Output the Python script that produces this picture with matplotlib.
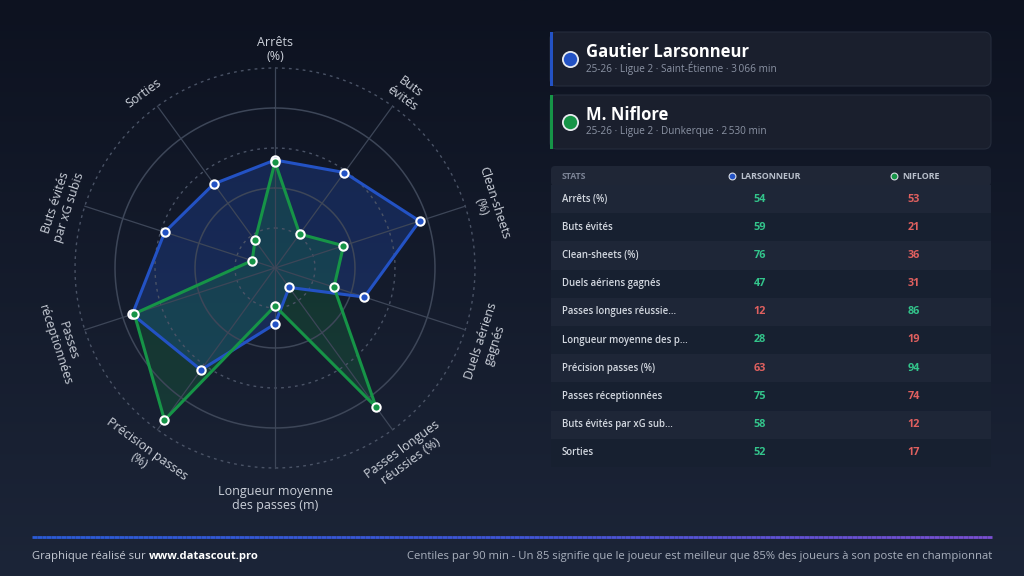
import numpy as np
import matplotlib
matplotlib.use('Agg')
import matplotlib.pyplot as plt
from matplotlib.patches import FancyBboxPatch, Rectangle
from matplotlib.colors import LinearSegmentedColormap
from matplotlib.collections import LineCollection
from matplotlib.transforms import ScaledTranslation

plt.rcParams['font.family'] = ['Open Sans', 'DejaVu Sans']

# --- data ---
categories = ['Arrêts\n(%)', 'Buts\névités', 'Clean-sheets\n(%)', 'Duels aériens\ngagnés',
              'Passes longues\nréussies (%)', 'Longueur moyenne\ndes passes (m)',
              'Précision passes\n(%)', 'Passes\nréceptionnées', 'Buts évités\npar xG subis', 'Sorties']
table_labels = ['Arrêts (%)', 'Buts évités', 'Clean-sheets (%)', 'Duels aériens gagnés',
                'Passes longues réussie...', 'Longueur moyenne des p...', 'Précision passes (%)',
                'Passes réceptionnées', 'Buts évités par xG sub...', 'Sorties']
larsonneur = [54, 59, 76, 47, 12, 28, 63, 75, 58, 52]
niflore = [53, 21, 36, 31, 86, 19, 94, 74, 12, 17]
players = ['Gautier Larsonneur', 'M. Niflore']
short_names = ['LARSONNEUR', 'NIFLORE']
infos = ['25-26 · Ligue 2 · Saint-Étienne · 3\u2009066 min',
         '25-26 · Ligue 2 · Dunkerque · 2\u2009530 min']

BLUE = '#2352c4'
GREEN = '#169447'
GOOD = '#33c48b'
BAD = '#e0605f'
TXT = '#ccd1da'

fig = plt.figure(figsize=(10.24, 5.76), dpi=100)

# background in pixel coordinates
bg = fig.add_axes([0, 0, 1, 1])
bg.set_xlim(0, 1024)
bg.set_ylim(576, 0)
bg.axis('off')
cmap = LinearSegmentedColormap.from_list('bg', ['#0d1220', '#1c2538'])
bg.imshow(np.linspace(0, 1, 256).reshape(-1, 1), extent=[0, 1024, 576, 0],
          cmap=cmap, aspect='auto', zorder=0)

# --- radar ---
ax = fig.add_axes([75 / 1024, 108 / 576, 400 / 1024, 400 / 576], projection='polar')
ax.set_theta_zero_location('N')
ax.set_theta_direction(-1)
ax.set_ylim(0, 100)
ax.axis('off')

n = len(categories)
angles = np.linspace(0, 2 * np.pi, n, endpoint=False)
circ = np.linspace(0, 2 * np.pi, 300)
for r in [20, 40, 60, 80, 100]:
    if r in (40, 80):
        ax.plot(circ, np.full_like(circ, r), color='#3d4658', lw=1.1, clip_on=False)
    else:
        ax.plot(circ, np.full_like(circ, r), color='#4a5366', lw=1, ls=(0, (2, 3)), clip_on=False)
for a in angles:
    ax.plot([a, a], [0, 100], color='#3d4658', lw=0.9, clip_on=False)

for vals, col, fa in [(larsonneur, BLUE, 0.28), (niflore, GREEN, 0.22)]:
    t = np.append(angles, angles[0])
    v = np.append(vals, vals[0])
    ax.fill(t, v, color=col, alpha=fa, lw=0)
    ax.plot(t, v, color=col, lw=2.2, zorder=3)
    ax.plot(angles, vals, 'o', ms=6, mfc=col, mec='white', mew=1.5, zorder=4, clip_on=False)

shift = ax.transData + ScaledTranslation(0, -0.06, fig.dpi_scale_trans)
for a, lab in zip(angles, categories):
    d = np.degrees(a)
    rot = -d
    if 90 < d < 270:
        rot += 180
    ax.text(a, 112, lab, rotation=rot, rotation_mode='anchor', ha='center', va='center',
            fontsize=9, color=TXT, linespacing=1.1, transform=shift)

# --- player cards ---
for i, (name, info, col) in enumerate(zip(players, infos, [BLUE, GREEN])):
    y0 = 32 + i * 63
    bg.add_patch(FancyBboxPatch((550, y0), 441, 54, boxstyle='round,pad=0,rounding_size=7',
                                fc='#1a1f2d', ec='#252c3c', lw=0.8, zorder=2))
    bg.add_patch(Rectangle((550, y0), 3, 54, fc=col, ec='none', zorder=3))
    bg.scatter([570], [y0 + 27], s=120, c=col, edgecolors='#e8ebf0', linewidths=1.3, zorder=4)
    bg.text(586, y0 + 20, name, fontsize=12, weight='bold', color='white', va='center', zorder=4)
    bg.text(586, y0 + 36.5, info, fontsize=7.2, color='#8b93a4', va='center', zorder=4)

# --- table ---
col_x = [740, 902]
bg.add_patch(FancyBboxPatch((551, 166), 440, 20, boxstyle='round,pad=0,rounding_size=4',
                            fc='#1f2636', ec='none', zorder=2))
bg.text(562, 176.5, 'STATS', fontsize=6.3, weight='bold', color='#7c8496', va='center', zorder=3)
for x, nm, col in zip(col_x, short_names, [BLUE, GREEN]):
    bg.scatter([x - 8], [176], s=24, c=col, edgecolors='#d8dce4', linewidths=0.8, zorder=3)
    bg.text(x, 176.5, nm, fontsize=6.4, weight='bold', color='#b9c0cc', va='center', zorder=3)

row_h = 28.2
for i, lab in enumerate(table_labels):
    yc = 199 + i * row_h
    fc = '#1e2637' if i % 2 == 0 else '#172030'
    bg.add_patch(Rectangle((551, yc - row_h / 2), 440, row_h, fc=fc, ec='none', zorder=2))
    bg.text(562, yc, lab, fontsize=6.9, weight=600, color='#d3d8e0', va='center', zorder=3)
    a, b = larsonneur[i], niflore[i]
    bg.text(760, yc, str(a), fontsize=7.8, weight='bold', color=GOOD if a >= b else BAD,
            ha='center', va='center', zorder=3)
    bg.text(914, yc, str(b), fontsize=7.8, weight='bold', color=GOOD if b > a else BAD,
            ha='center', va='center', zorder=3)

# --- footer ---
xs = np.linspace(32, 992, 200)
segs = [[(xs[k], 537), (xs[k + 1], 537)] for k in range(len(xs) - 1)]
lc = LineCollection(segs, cmap=LinearSegmentedColormap.from_list('ft', ['#2b5bd6', '#3f55d6', '#7a4fd2']),
                    lw=2, zorder=3)
lc.set_array(np.linspace(0, 1, len(segs)))
bg.add_collection(lc)

t1 = bg.text(32, 556, 'Graphique réalisé sur ', fontsize=8.1, color='#c3c8d2', va='center')
fig.canvas.draw()
bb = t1.get_window_extent()
bg.text(32 + bb.width, 556, 'www.datascout.pro', fontsize=8.1, weight='bold', color='white', va='center')
bg.text(992, 556, 'Centiles par 90 min - Un 85 signifie que le joueur est meilleur que 85% des joueurs à son poste en championnat',
        fontsize=8.1, color='#a9b0bd', va='center', ha='right')

fig.savefig('out.png', dpi=100, facecolor=fig.get_facecolor())
